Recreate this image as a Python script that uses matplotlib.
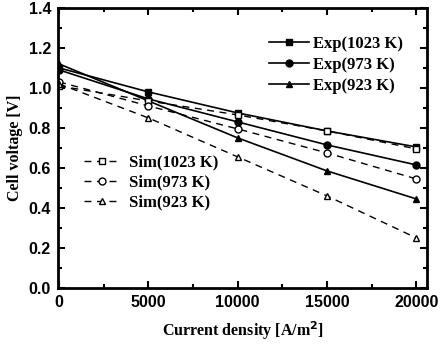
import numpy as np
import matplotlib.pyplot as plt
from matplotlib.ticker import MultipleLocator

# current density [A/m2]
current = [0, 5000, 10000, 15000, 20000]

# experimental cell voltage
exp_1023 = [1.10, 0.98, 0.875, 0.785, 0.705]
exp_973 = [1.09, 0.945, 0.83, 0.715, 0.615]
exp_923 = [1.12, 0.935, 0.75, 0.585, 0.445]

# simulated cell voltage
sim_1023 = [1.01, 0.935, 0.865, 0.785, 0.695]
sim_973 = [1.03, 0.91, 0.795, 0.675, 0.545]
sim_923 = [1.02, 0.85, 0.655, 0.46, 0.25]

serif = {'family': 'Liberation Serif', 'weight': 'bold'}

fig = plt.figure(figsize=(4.43, 3.44), dpi=100)
ax = fig.add_axes([0.131, 0.163, 0.833, 0.814])

ms = 5
e1, = ax.plot(current, exp_1023, 'k-s', ms=ms, lw=1.2, label='Exp(1023 K)')
e2, = ax.plot(current, exp_973, 'k-o', ms=ms, lw=1.2, label='Exp(973 K)')
e3, = ax.plot(current, exp_923, 'k-^', ms=ms, lw=1.2, label='Exp(923 K)')
s1, = ax.plot(current, sim_1023, 'k--s', ms=ms, lw=1.0, mfc='white', dashes=(5, 4), label='Sim(1023 K)')
s2, = ax.plot(current, sim_973, 'k--o', ms=ms, lw=1.0, mfc='white', dashes=(5, 4), label='Sim(973 K)')
s3, = ax.plot(current, sim_923, 'k--^', ms=ms, lw=1.0, mfc='white', dashes=(5, 4), label='Sim(923 K)')

ax.set_xlim(-60, 20600)
ax.set_ylim(0, 1.4)
ax.xaxis.set_major_locator(MultipleLocator(5000))
ax.xaxis.set_minor_locator(MultipleLocator(2500))
ax.yaxis.set_major_locator(MultipleLocator(0.2))
ax.yaxis.set_minor_locator(MultipleLocator(0.1))
ax.tick_params(which='both', direction='in', top=True, right=True, width=1.5)
ax.tick_params(which='major', length=5, pad=5)
ax.tick_params(which='minor', length=3)
ax.yaxis.set_major_formatter(plt.FormatStrFormatter('%.1f'))
for lab in ax.get_xticklabels() + ax.get_yticklabels():
    lab.set_family('Liberation Sans')
    lab.set_fontweight('bold')
    lab.set_fontsize(11.5)
for sp in ax.spines.values():
    sp.set_linewidth(2)

ax.set_xlabel('Current density [A/m$^\\mathbf{2}$]', fontdict=serif, fontsize=11.5, labelpad=7)
ax.set_ylabel('Cell voltage [V]', fontdict=serif, fontsize=11.5, labelpad=4)

leg1 = ax.legend(handles=[e1, e2, e3], loc='upper right', bbox_to_anchor=(0.975, 0.955),
                 frameon=False, prop={'family': 'Liberation Serif', 'weight': 'bold', 'size': 12},
                 handlelength=2.4, handletextpad=0.2, labelspacing=0.3)
ax.add_artist(leg1)
ax.legend(handles=[s1, s2, s3], loc='upper left', bbox_to_anchor=(0.03, 0.53),
          frameon=False, prop={'family': 'Liberation Serif', 'weight': 'bold', 'size': 12},
          handlelength=2.2, handletextpad=0.5, labelspacing=0.25)

fig.savefig('out.png', dpi=100)
